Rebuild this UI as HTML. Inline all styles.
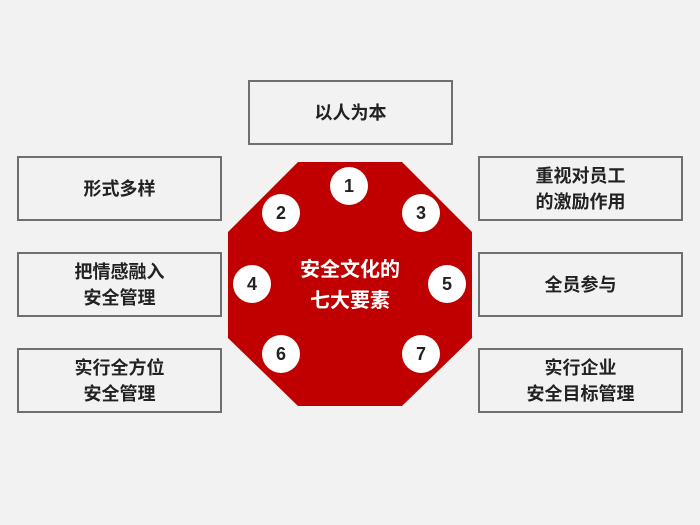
<!DOCTYPE html>
<html><head><meta charset="utf-8"><style>
body{margin:0;width:700px;height:525px;background:#f2f2f2;position:relative;overflow:hidden;font-family:"Liberation Sans","Noto Sans CJK SC",sans-serif}
.b{position:absolute;width:201px;height:61px;border:2px solid #6f6f6f;display:flex;align-items:center;justify-content:center;text-align:center;font-weight:bold;font-size:18px;line-height:26px;color:#222}
.c{position:absolute;width:38px;height:38px;border-radius:50%;background:#fff;text-align:center;line-height:38px;font-weight:bold;font-size:18px;color:#222}
</style></head><body>
<svg style="position:absolute;left:0;top:0" width="700" height="525"><polygon points="298,162 402,162 472,232 472,338 402,406 298,406 228,338 228,232" fill="#c00000"/></svg>
<div class="b" style="left:248px;top:80px">以人为本</div>
<div class="b" style="left:17px;top:156px">形式多样</div>
<div class="b" style="left:17px;top:252px">把情感融入<br>安全管理</div>
<div class="b" style="left:17px;top:348px">实行全方位<br>安全管理</div>
<div class="b" style="left:478px;top:156px">重视对员工<br>的激励作用</div>
<div class="b" style="left:478px;top:252px">全员参与</div>
<div class="b" style="left:478px;top:348px">实行企业<br>安全目标管理</div>
<div class="c" style="left:330px;top:167px">1</div>
<div class="c" style="left:262px;top:194px">2</div>
<div class="c" style="left:402px;top:194px">3</div>
<div class="c" style="left:233px;top:265px">4</div>
<div class="c" style="left:428px;top:265px">5</div>
<div class="c" style="left:262px;top:335px">6</div>
<div class="c" style="left:402px;top:335px">7</div>
<div style="position:absolute;left:250px;top:255px;width:200px;text-align:center;color:#fff;font-size:20px;font-weight:bold;line-height:31px">安全文化的<br>七大要素</div>
</body></html>
